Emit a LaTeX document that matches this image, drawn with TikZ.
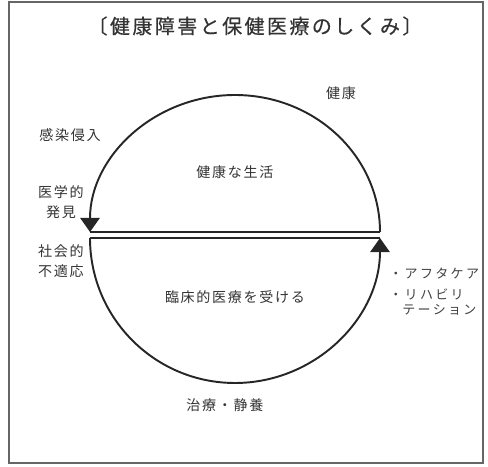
\documentclass[tikz,border=0pt]{standalone}
\usepackage{fontspec}
\usetikzlibrary{arrows.meta}
\setmainfont{Noto Sans CJK JP}
\newfontfamily\jpfont[LetterSpace=12]{Noto Sans CJK JP}
\newfontfamily\titlefont[LetterSpace=12,FakeBold=0.4]{Noto Sans CJK JP}
\newfontfamily\kanafont[LetterSpace=18]{Noto Sans CJK JP}
\begin{document}
\begin{tikzpicture}[x=0.02cm,y=0.02cm,
  lbl/.style={font=\jpfont\fontsize{8pt}{11pt}\selectfont,text=black!80,inner sep=0pt,align=center},
  kana/.style={font=\kanafont\fontsize{7.4pt}{9pt}\selectfont,text=black!75,inner sep=0pt,align=left,anchor=west},
  halfarc/.style={line width=1.1pt,draw=black!85,-{Triangle[length=8pt,width=11pt]}},
  bar/.style={line width=0.9pt,draw=black!85}]
\useasboundingbox (0,0) rectangle (488,467);
% frame and title
\draw[black!60,line width=1.2pt] (9,4) rectangle (483,465);
\node[font=\titlefont\fontsize{11.4pt}{13pt}\selectfont,text=black!80,inner sep=0pt] (title) at (255,441) {〔健康障害と保健医療のしくみ〕};

% end points of the two halves
\coordinate (UL) at (90,235);
\coordinate (UR) at (380,235);
\coordinate (LL) at (90,229);
\coordinate (LR) at (380,229);

% upper half: health
\draw[halfarc] (UR) arc[start angle=0,end angle=180,x radius=145,y radius=137];
\draw[bar] (UL) -- (UR);
% lower half: care
\draw[bar] (LL) -- (LR);
\draw[halfarc] (LL) arc[start angle=180,end angle=360,radius=145];

% labels
\node[lbl] (kenko) at (341,374) {健康};
\node[lbl] (kansen) at (70,332) {感染侵入};
\node[lbl] (igaku) at (61,265) {医学的\\発見};
\node[lbl] (shakai) at (61,206) {社会的\\不適応};
\node[lbl] (seikatsu) at (235,295) {健康な生活};
\node[lbl] (rinsho) at (235,170) {臨床的医療を受ける};
\node[lbl] (chiryo) at (225,62) {治療・静養};
\node[kana] (after) at (389,194) {・アフタケア};
\node[kana] (rehab) at (389,165) {・リハビリ\\\phantom{・}テーション};
\end{tikzpicture}
\end{document}
